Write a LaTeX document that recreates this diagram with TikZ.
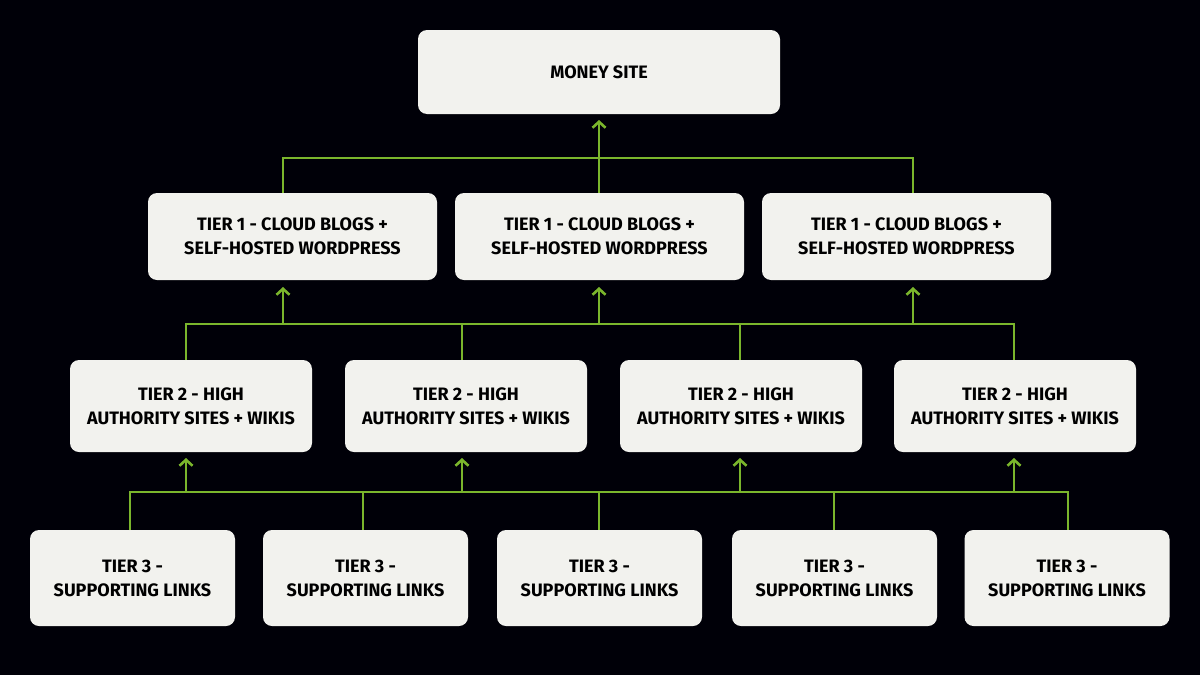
\documentclass[tikz,border=0pt]{standalone}
\usepackage{fontspec}
\setmainfont{Fira Sans}
\begin{document}
\begin{tikzpicture}[x=1pt,y=-1pt,
  box/.style={draw=none,fill=boxc,rounded corners=9pt,align=center,font=\fontsize{18}{24}\selectfont\bfseries,text=black,inner sep=0pt},
  ln/.style={draw=grn,line width=2.6pt},
  ar/.style={ln,-{Straight Barb[length=6pt,width=13pt,line width=2.6pt]}}]
\usetikzlibrary{arrows.meta}
\definecolor{grn}{HTML}{7AB52C}
\definecolor{boxc}{HTML}{F2F2EE}
\fill[black!97!blue] (0,0) rectangle (1200,675);
\useasboundingbox (0,0) rectangle (1200,675);
\node[box,minimum width=362pt,minimum height=84pt] (m) at (599,72) {MONEY SITE};
\foreach \i/\x in {1/292.5,2/599.5,3/906.5}
  \node[box,minimum width=289pt,minimum height=87pt] (a\i) at (\x,236.5) {TIER 1 - CLOUD BLOGS +\\SELF-HOSTED WORDPRESS};
\foreach \i/\x in {1/191,2/466,3/741,4/1015}
  \node[box,minimum width=242pt,minimum height=92pt] (b\i) at (\x,406) {TIER 2 - HIGH\\AUTHORITY SITES + WIKIS};
\foreach \i/\x in {1/132.5,2/365.5,3/599.5,4/834.5,5/1067}
  \node[box,minimum width=205pt,minimum height=96pt] (c\i) at (\x,578) {TIER 3 -\\SUPPORTING LINKS};
% level 1
\coordinate (h1) at (599,158);
\draw[ln] (283,193) |- (913,158) -- (913,193);
\draw[ln] (599,158) -- (599,193);
\draw[ar] (h1) -- (599,120);
% level 2
\draw[ln] (186,360) |- (1014,324) -- (1014,360);
\draw[ln] (462,324) -- (462,360);
\draw[ln] (740,324) -- (740,360);
\foreach \x in {283,599,913} \draw[ar] (\x,324) -- (\x,287);
% level 3
\draw[ln] (130,530) |- (1068,492) -- (1068,530);
\foreach \x in {363,599,834} \draw[ln] (\x,492) -- (\x,530);
\foreach \x in {186,462,740,1014} \draw[ar] (\x,492) -- (\x,458);
\end{tikzpicture}
\end{document}
